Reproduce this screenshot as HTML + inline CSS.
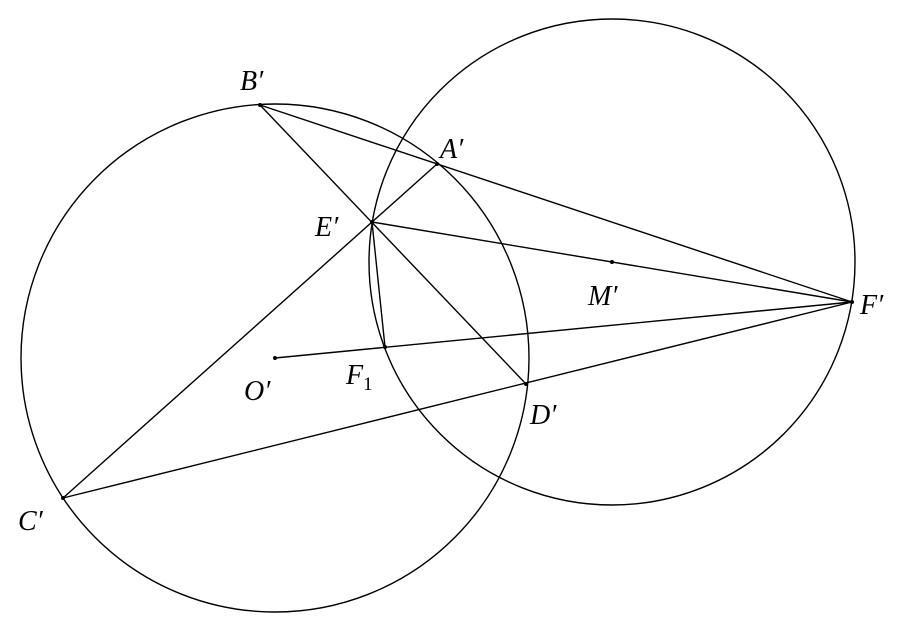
<!DOCTYPE html>
<html><head><meta charset="utf-8"><style>
html,body{margin:0;padding:0;background:#fff;}
svg{display:block}
text{font-family:"Liberation Serif",serif;font-style:italic;font-size:28px;fill:#000}
</style></head><body>
<svg width="904" height="624" viewBox="0 0 904 624" xmlns="http://www.w3.org/2000/svg">
<g fill="none" stroke="#000" stroke-width="1.4">
<circle cx="275" cy="358" r="254"/>
<circle cx="612" cy="262" r="243"/>
<line x1="260" y1="105" x2="852" y2="302"/>
<line x1="260" y1="105" x2="526" y2="384"/>
<line x1="63" y1="498" x2="437" y2="164"/>
<line x1="63" y1="498" x2="852" y2="302"/>
<line x1="372" y1="222" x2="852" y2="302"/>
<line x1="372" y1="222" x2="385" y2="347"/>
<line x1="275" y1="358" x2="852" y2="302"/>
</g>
<g fill="#000">
<circle cx="260" cy="105" r="2"/><circle cx="437" cy="164" r="2"/><circle cx="372" cy="222" r="2"/>
<circle cx="612" cy="262" r="2"/><circle cx="852" cy="302" r="2"/><circle cx="275" cy="358" r="2"/>
<circle cx="385" cy="347" r="2"/><circle cx="526" cy="384" r="2"/><circle cx="63" cy="498" r="2"/>
</g>
<text x="240" y="90">B′</text>
<text x="440" y="158">A′</text>
<text x="315" y="236">E′</text>
<text x="588" y="305">M′</text>
<text x="860" y="314">F′</text>
<text x="244" y="400">O′</text>
<text x="346" y="384">F<tspan font-size="19" font-style="normal" dy="6">1</tspan></text>
<text x="530" y="424">D′</text>
<text x="18" y="530">C′</text>
</svg>
</body></html>
